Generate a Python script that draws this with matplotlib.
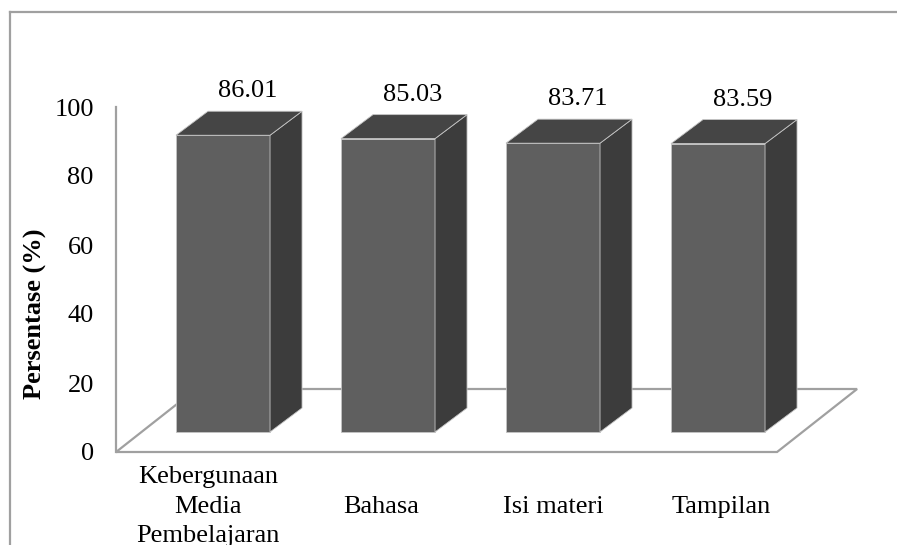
import matplotlib.pyplot as plt
from matplotlib.patches import Polygon
from matplotlib.lines import Line2D
import numpy as np

plt.rcParams['font.family'] = ['Liberation Serif', 'DejaVu Serif']

# Data
kategori = ['Kebergunaan\nMedia\nPembelajaran', 'Bahasa', 'Isi materi', 'Tampilan']
persentase = [86.01, 85.03, 83.71, 83.59]
y_ticks = [0, 20, 40, 60, 80, 100]

# Geometry of the pseudo 3D view (data units)
bar_w = 0.57          # width of the front face
depth_x = 0.194       # horizontal shift of the back faces
depth_y = 6.96        # vertical shift of the back faces
base = 5.8            # front bottom of the bars sits above the floor edge
floor_dx = 0.485
floor_dy = 18.26
axis_x = -0.648
floor_right = 3.358
label_x = [-0.09, 0.96, 2.0, 3.02]
label_y = -15.8

fs = 19
c_front = '#5f5f5f'
c_side = '#3c3c3c'
c_top = '#454545'
c_edge = '#c4c4c4'
c_grid = '#a0a0a0'

fig = plt.figure(figsize=(8.97, 5.45), dpi=100)
ax = fig.add_axes([0, 0, 1, 1])
ax.set_xlim(-223 / 165, (897 - 223) / 165)
ax.set_ylim(-(545 - 452) / 3.45, 452 / 3.45)
ax.patch.set_visible(False)

# floor
floor = Polygon([(axis_x, 0), (floor_right, 0),
                 (floor_right + floor_dx, floor_dy), (axis_x + floor_dx, floor_dy)],
                closed=True, facecolor='white', edgecolor=c_grid, lw=1.6, zorder=1)
ax.add_patch(floor)

# bars: front faces
x = np.arange(len(persentase))
ax.bar(x, persentase, width=bar_w, bottom=base, color=c_front,
       edgecolor=c_edge, linewidth=0.6, zorder=3)

for xi, v in zip(x, persentase):
    left = xi - bar_w / 2
    right = xi + bar_w / 2
    top = base + v
    side = Polygon([(right, base), (right + depth_x, base + depth_y),
                    (right + depth_x, top + depth_y), (right, top)],
                   closed=True, facecolor=c_side, edgecolor=c_edge, lw=0.6, zorder=3)
    lid = Polygon([(left, top), (right, top), (right + depth_x, top + depth_y),
                   (left + depth_x, top + depth_y)],
                  closed=True, facecolor=c_top, edgecolor=c_edge, lw=0.6, zorder=3)
    ax.add_patch(side)
    ax.add_patch(lid)
    ax.text(xi + 0.152, top + depth_y + 5.8, f'{v:.2f}', ha='center', va='center',
            fontsize=fs, zorder=4)

# value axis
for s in ['top', 'right', 'bottom']:
    ax.spines[s].set_visible(False)
ax.spines['left'].set_position(('data', axis_x))
ax.spines['left'].set_bounds(0, 100)
ax.spines['left'].set_color(c_grid)
ax.spines['left'].set_linewidth(1.6)
ax.set_yticks(y_ticks)
ax.tick_params(axis='y', length=0, pad=16, labelsize=fs)
ax.set_xticks([])

# category names
for lx, name in zip(label_x, kategori):
    ax.text(lx, label_y, name, ha='center', va='center', fontsize=fs, linespacing=1.45)

ax.text((35 - 223) / 165, 40, 'Persentase (%)', rotation=90, ha='center', va='center',
        fontsize=fs, fontweight='bold')

# chart frame
fig.add_artist(Line2D([10 / 897, 10 / 897], [-0.1, 1 - 12 / 545], transform=fig.transFigure,
                      color=c_grid, lw=1.6))
fig.add_artist(Line2D([10 / 897, 1.1], [1 - 12 / 545, 1 - 12 / 545], transform=fig.transFigure,
                      color=c_grid, lw=1.6))

fig.savefig('out.png', dpi=100)
